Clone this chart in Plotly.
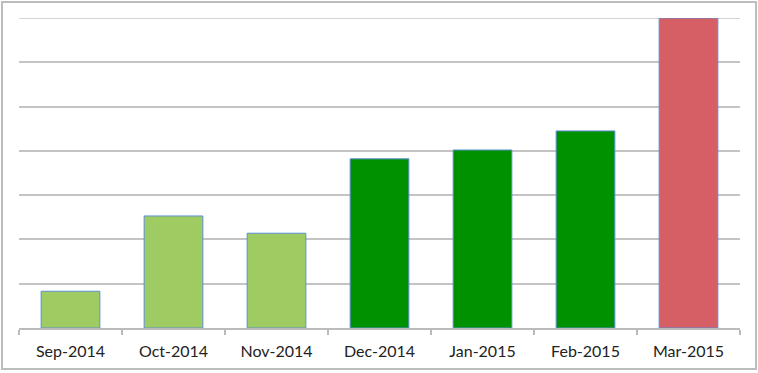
import plotly.graph_objects as go

months = ["Sep-2014", "Oct-2014", "Nov-2014", "Dec-2014", "Jan-2015", "Feb-2015", "Mar-2015"]
values = [0.83, 2.53, 2.14, 3.82, 4.02, 4.45, 7.0]
colors = ["#9FCB63", "#9FCB63", "#9FCB63", "#009100", "#009100", "#009100", "#D65F66"]
y_max = 7

W, H = 758, 373
L, R, T, B = 19, 18, 18, 45
pw, ph = W - L - R, H - T - B

fig = go.Figure(go.Bar(
    x=months, y=values,
    marker=dict(color=colors, line=dict(color="#5B8FD4", width=1)),
    cliponaxis=False,
))

fig.update_layout(
    width=W, height=H,
    margin=dict(l=L, r=R, t=T, b=B),
    paper_bgcolor="white", plot_bgcolor="white",
    bargap=0.43,
    showlegend=False,
    font=dict(family="Lato, Open Sans, sans-serif", size=16, color="#222"),
    shapes=[
        dict(type="rect", xref="paper", yref="paper",
             x0=(2 - L) / pw, x1=(756 - L) / pw,
             y0=(T + ph - 369) / ph, y1=(T + ph - 2) / ph,
             line=dict(color="#BDBDBD", width=2), layer="below"),
        dict(type="line", xref="paper", yref="y", x0=0, x1=1, y0=y_max, y1=y_max,
             line=dict(color="#C4C4C4", width=1.5), layer="below"),
    ],
)
fig.update_xaxes(
    showline=True, linecolor="#BBBBBB", linewidth=1.5,
    ticks="outside", tickson="boundaries", ticklen=5, tickcolor="#BBBBBB", tickwidth=1.5,
    ticklabelstandoff=8,
    showgrid=False,
)
fig.update_yaxes(
    range=[0, y_max], tickvals=list(range(1, y_max + 1)), showticklabels=False, showline=False,
    showgrid=True, gridcolor="#C4C4C4", gridwidth=1.5, zeroline=False, ticks="",
)
fig.write_html("out.html")
